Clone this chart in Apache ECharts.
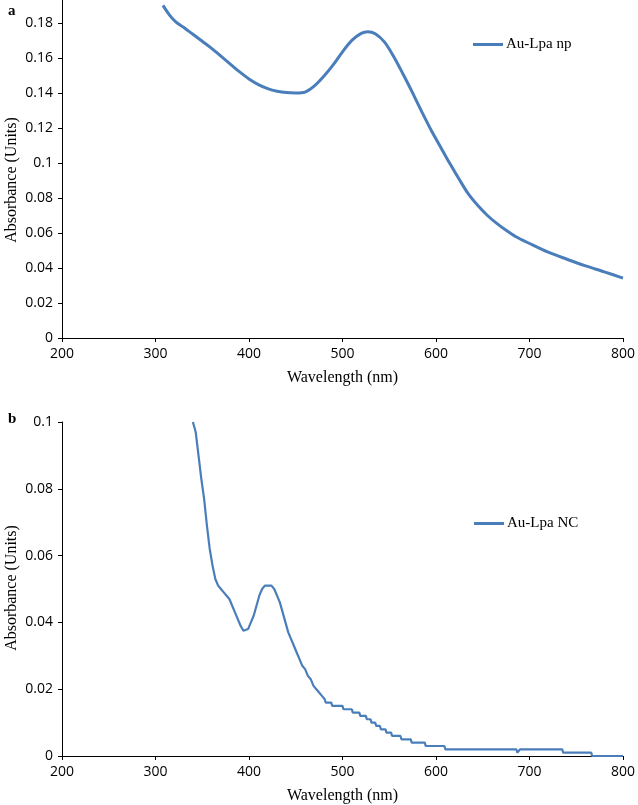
<!DOCTYPE html>
<html>
<head>
<meta charset="utf-8">
<script src="https://cdn.jsdelivr.net/npm/echarts@6/dist/echarts.min.js"></script>
<style>
html,body{margin:0;padding:0;background:#fff;}
#chart{width:638px;height:805px;}
</style>
</head>
<body>
<div id="chart"></div>
<script>
// Panel a: Au-Lpa np
var npWavelength = [308,315,322,330,340,350,360,370,380,390,400,410,420,430,440,450,460,470,480,490,500,510,520,527,535,545,555,565,575,585,595,605,615,625,635,645,655,665,675,685,700,720,740,760,780,800];
var npAbsorbance = [0.190,0.1845,0.1805,0.1775,0.1735,0.1695,0.1655,0.1610,0.1565,0.1520,0.1480,0.1448,0.1425,0.1410,0.1402,0.1400,0.1405,0.1440,0.1495,0.1560,0.1635,0.1700,0.1740,0.1750,0.1738,0.1690,0.1605,0.1505,0.1400,0.1290,0.1185,0.1090,0.0995,0.0905,0.0820,0.0755,0.0700,0.0655,0.0615,0.0580,0.0540,0.0490,0.0450,0.0412,0.0378,0.0342];

// Panel b: Au-Lpa NC
var ncWavelength = [340,343,346,349,352,355,358,361,364,367,370,373,376,379,382,385,388,391,394,396,399,402,405,408,411,414,417,424,427,430,433,436,439,442,445,448,451,454,457,460,463,466,469,472,475,478,481,482,488,489,500,501,510,511,518,519,525,526,530,531,535,536,540,541,546,547,552,553,562,563,573,574,588,589,609,610,686,687,689,690,735,736,766,767,800];
var ncAbsorbance = [0.100,0.097,0.090,0.083,0.077,0.069,0.062,0.057,0.053,0.051,0.050,0.049,0.048,0.047,0.045,0.043,0.041,0.039,0.0375,0.037,0.038,0.040,0.042,0.045,0.048,0.050,0.051,0.051,0.050,0.048,0.046,0.043,0.040,0.037,0.035,0.033,0.031,0.029,0.027,0.026,0.024,0.023,0.021,0.020,0.019,0.018,0.017,0.016,0.016,0.015,0.015,0.014,0.014,0.013,0.013,0.012,0.012,0.011,0.011,0.010,0.010,0.009,0.009,0.008,0.008,0.007,0.007,0.006,0.006,0.005,0.005,0.004,0.004,0.003,0.003,0.002,0.002,0.001,0.001,0.002,0.002,0.001,0.001,0.000,0.000];

var xTicks = [200,300,400,500,600,700,800];
var yTicksA = [0,0.02,0.04,0.06,0.08,0.1,0.12,0.14,0.16,0.18];
var yTicksB = [0,0.02,0.04,0.06,0.08,0.1];
var seriesNames = ['Au-Lpa np','Au-Lpa NC'];
var xTitle = 'Wavelength (nm)';
var yTitle = 'Absorbance (Units)';
var panelLabels = ['a','b'];

function pairs(xs, ys){ return xs.map(function(x,i){ return [x, ys[i]]; }); }

var blue = '#4A7EBB';
var tickFont = {fontFamily:'Open Sans', fontSize:14, color:'#000'};
var serif = 'Liberation Serif';

function xAxisCfg(gi){
  return {
    gridIndex: gi, type:'value', min: xTicks[0], max: xTicks[xTicks.length-1], interval: 100,
    axisLine:{show:true, lineStyle:{color:'#000', width:1}},
    axisTick:{show:true, length:4, lineStyle:{color:'#000'}},
    axisLabel: Object.assign({margin:9}, tickFont),
    splitLine:{show:false},
    name: xTitle, nameLocation:'middle', nameGap: 32,
    nameTextStyle:{fontFamily:serif, fontSize:16, color:'#000'}
  };
}
function yAxisCfg(gi, max, ticks){
  return {
    gridIndex: gi, type:'value', min:0, max:max,
    axisLine:{show:true, lineStyle:{color:'#000', width:1}},
    axisTick:{show:true, length:4, lineStyle:{color:'#000'}, customValues:ticks},
    axisLabel: Object.assign({margin:9, customValues:ticks}, tickFont),
    splitLine:{show:false}
  };
}

var chart = echarts.init(document.getElementById('chart'), null, {renderer:'canvas'});
chart.setOption({
  animation:false,
  backgroundColor:'#fff',
  grid:[
    {left:62, right:12, top:0, height:338},
    {left:62, right:12, top:422, height:335}
  ],
  xAxis:[xAxisCfg(0), xAxisCfg(1)],
  yAxis:[yAxisCfg(0, 0.1931, yTicksA), yAxisCfg(1, 0.1, yTicksB)],
  legend:[
    {data:[seriesNames[0]], left:473, top:37, padding:0, icon:'rect', itemWidth:30, itemHeight:3, itemGap:4,
     textStyle:{fontFamily:serif, fontSize:15, color:'#000', padding:[0,0,0,-2]}},
    {data:[seriesNames[1]], left:474, top:516, padding:0, icon:'rect', itemWidth:30, itemHeight:3, itemGap:4,
     textStyle:{fontFamily:serif, fontSize:15, color:'#000', padding:[0,0,0,-2]}}
  ],
  graphic:[
    {type:'text', left:8, top:4, style:{text:panelLabels[0], font:'bold 15px "Liberation Serif"', fill:'#000'}},
    {type:'text', left:8, top:412, style:{text:panelLabels[1], font:'bold 15px "Liberation Serif"', fill:'#000'}},
    {type:'text', x:4, y:180, rotation:Math.PI/2, style:{text:yTitle, font:'16px "Liberation Serif"', fill:'#000', align:'center', verticalAlign:'top'}},
    {type:'text', x:4, y:588, rotation:Math.PI/2, style:{text:yTitle, font:'16px "Liberation Serif"', fill:'#000', align:'center', verticalAlign:'top'}}
  ],
  series:[
    {name:seriesNames[0], type:'line', xAxisIndex:0, yAxisIndex:0, data:pairs(npWavelength, npAbsorbance),
     showSymbol:false, smooth:0.3, lineStyle:{color:blue, width:3}, itemStyle:{color:blue}},
    {name:seriesNames[1], type:'line', xAxisIndex:1, yAxisIndex:1, data:pairs(ncWavelength, ncAbsorbance),
     showSymbol:false, lineStyle:{color:blue, width:2.2}, itemStyle:{color:blue}}
  ]
});
</script>
</body>
</html>
